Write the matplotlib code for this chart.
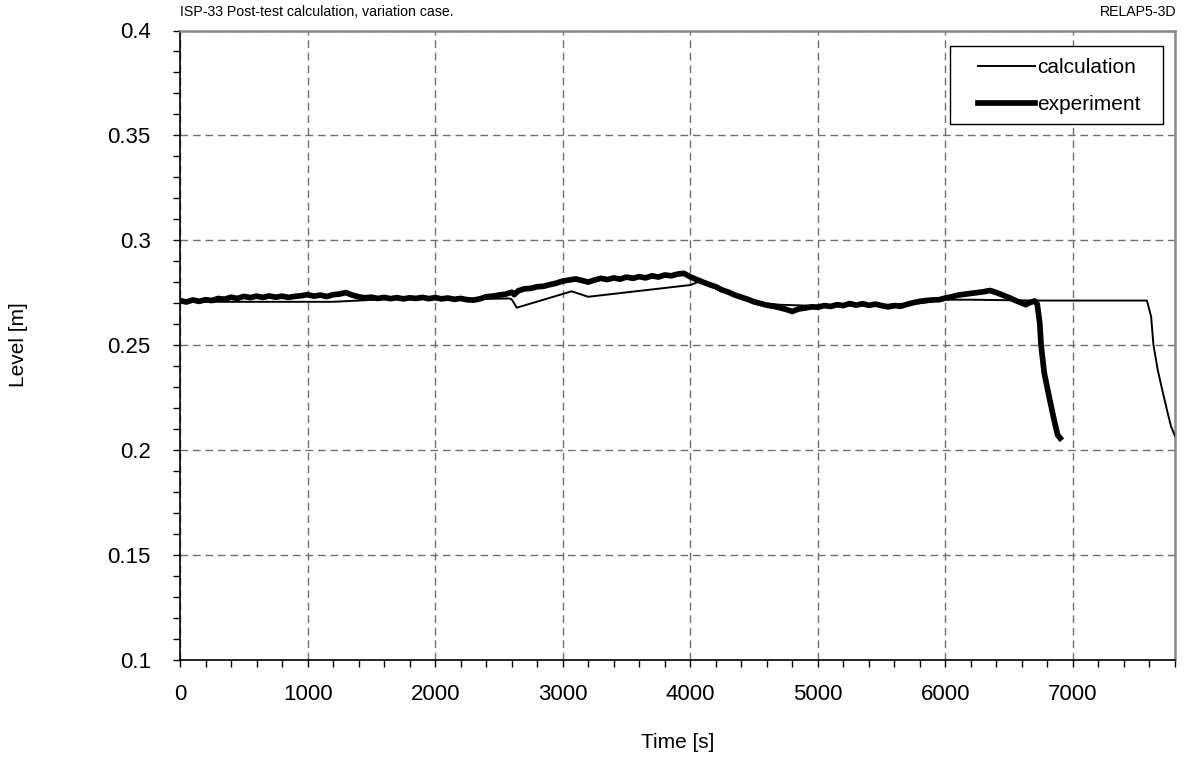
import matplotlib
matplotlib.use("Agg")
import matplotlib.pyplot as plt
from matplotlib.ticker import MultipleLocator
from matplotlib.legend_handler import HandlerLine2D
from matplotlib.patches import Rectangle

plt.rcParams['font.family'] = ['Liberation Sans', 'DejaVu Sans']

# Measured collapsed level, ISP-33 experiment
exp_time = [0, 50, 100, 150, 200, 250, 300, 350, 400, 450, 500, 550, 600, 650, 700,
            750, 800, 850, 900, 950, 1000, 1050, 1100, 1150, 1200, 1250, 1300, 1350,
            1400, 1450, 1500, 1550, 1600, 1650, 1700, 1750, 1800, 1850, 1900, 1950,
            2000, 2050, 2100, 2150, 2200, 2250, 2300, 2350, 2400, 2450, 2500, 2550,
            2600, 2620, 2650, 2700, 2750, 2800, 2850, 2900, 2950, 3000, 3050, 3100,
            3150, 3200, 3250, 3300, 3350, 3400, 3450, 3500, 3550, 3600, 3650, 3700,
            3750, 3800, 3850, 3900, 3950, 4000, 4050, 4100, 4150, 4200, 4250, 4300,
            4350, 4400, 4450, 4500, 4550, 4600, 4650, 4700, 4750, 4800, 4850, 4900,
            4950, 5000, 5050, 5100, 5150, 5200, 5250, 5300, 5350, 5400, 5450, 5500,
            5550, 5600, 5650, 5700, 5750, 5800, 5850, 5900, 5950, 6000, 6050, 6100,
            6150, 6200, 6250, 6300, 6350, 6400, 6450, 6500, 6550, 6600, 6630, 6660,
            6700, 6720, 6740, 6750, 6775, 6813, 6852, 6880, 6900]
exp_level = [0.2712, 0.2705, 0.2715, 0.2708, 0.2716, 0.2712, 0.2722, 0.2718, 0.2728,
             0.2722, 0.2732, 0.2726, 0.2733, 0.2727, 0.2734, 0.2728, 0.2733, 0.2727,
             0.2732, 0.2735, 0.2740, 0.2733, 0.2738, 0.2731, 0.2740, 0.2743, 0.2750,
             0.2738, 0.2730, 0.2725, 0.2728, 0.2722, 0.2727, 0.2721, 0.2726, 0.2720,
             0.2725, 0.2722, 0.2727, 0.2721, 0.2726, 0.2720, 0.2724, 0.2718, 0.2722,
             0.2716, 0.2714, 0.2720, 0.2730, 0.2733, 0.2738, 0.2742, 0.2752, 0.2740,
             0.2758, 0.2768, 0.2770, 0.2778, 0.2780, 0.2788, 0.2795, 0.2805, 0.2810,
             0.2815, 0.2808, 0.2800, 0.2810, 0.2818, 0.2812, 0.2820, 0.2814, 0.2824,
             0.2818, 0.2826, 0.2820, 0.2830, 0.2824, 0.2834, 0.2830, 0.2838, 0.2842,
             0.2825, 0.2812, 0.2800, 0.2788, 0.2778, 0.2762, 0.2752, 0.2738, 0.2728,
             0.2718, 0.2706, 0.2698, 0.2690, 0.2685, 0.2678, 0.2670, 0.2660, 0.2672,
             0.2676, 0.2682, 0.2680, 0.2688, 0.2684, 0.2692, 0.2688, 0.2698, 0.2690,
             0.2697, 0.2689, 0.2695, 0.2688, 0.2682, 0.2688, 0.2685, 0.2694, 0.2702,
             0.2708, 0.2712, 0.2715, 0.2716, 0.2724, 0.2730, 0.2738, 0.2742, 0.2746,
             0.2750, 0.2754, 0.2760, 0.2750, 0.2738, 0.2726, 0.2712, 0.2700, 0.2692,
             0.2702, 0.2710, 0.2695, 0.2603, 0.2500, 0.2367, 0.2254, 0.2143, 0.2071,
             0.2056]

# RELAP5-3D calculated level
calc_time = [0, 200, 1200, 1400, 1600, 2400, 2580, 2600, 2640, 3070, 3200, 4000,
             4060, 4100, 4200, 4300, 4400, 4500, 4600, 4700, 4800, 4900, 5000, 5500,
             5800, 6000, 6200, 6700, 7580, 7613, 7631, 7665, 7700, 7743, 7770, 7800]
calc_level = [0.2712, 0.2706, 0.2706, 0.2712, 0.2718, 0.2720, 0.2722, 0.2718, 0.2678,
              0.2756, 0.2730, 0.2786, 0.2800, 0.2795, 0.2775, 0.2750, 0.2728, 0.2710,
              0.2698, 0.2692, 0.2690, 0.2688, 0.2688, 0.2690, 0.2700, 0.2716, 0.2716,
              0.2712, 0.2712, 0.2635, 0.2500, 0.2380, 0.2286, 0.2175, 0.2110, 0.2066]

W, H = 1191, 758
fig = plt.figure(figsize=(W / 100, H / 100), dpi=100)
ax = fig.add_axes([180 / W, 1 - 659.5 / H, 995 / W, 629 / H])

calc_line, = ax.plot(calc_time, calc_level, color='black', lw=1.4, label='calculation',
                     zorder=3)
exp_line, = ax.plot(exp_time, exp_level, color='black', lw=4.1, label='experiment',
                    zorder=4)

ax.set_xlim(0, 7800)
ax.set_ylim(0.1, 0.4)
ax.xaxis.set_major_locator(MultipleLocator(1000))
ax.xaxis.set_minor_locator(MultipleLocator(200))
ax.yaxis.set_minor_locator(MultipleLocator(0.01))
ax.set_yticks([0.1, 0.15, 0.2, 0.25, 0.3, 0.35, 0.4])
ax.set_yticklabels(['0.1', '0.15', '0.2', '0.25', '0.3', '0.35', '0.4'])

ax.grid(True, which='major', color='#707070', lw=1.0, linestyle=(0, (5.5, 3.5)))
ax.set_axisbelow(True)

ax.tick_params(which='both', direction='out', length=5, width=1, color='black')
ax.tick_params(axis='x', which='major', pad=13, labelsize=16)
ax.tick_params(axis='y', which='major', pad=16, labelsize=16)

for side in ('left', 'bottom'):
    ax.spines[side].set_color('black')
    ax.spines[side].set_linewidth(1.2)
for side in ('top', 'right'):
    ax.spines[side].set_color('#888888')
    ax.spines[side].set_linewidth(1.8)

ax.set_xlabel('Time [s]', fontsize=15)
ax.set_ylabel('Level [m]', fontsize=15)
ax.xaxis.set_label_coords(0.5, (1 - 742 / H - (1 - 659.5 / H)) / (629 / H),
                          transform=ax.transAxes)
ax.xaxis.label.set_va('center')
ax.yaxis.set_label_coords((18 - 180) / 995, 0.5, transform=ax.transAxes)
ax.yaxis.label.set_va('center')

fig.text(180 / W, 1 - 12 / H, 'ISP-33 Post-test calculation, variation case.',
         fontsize=10.2, ha='left', va='center')
fig.text(1176 / W, 1 - 12 / H, 'RELAP5-3D', fontsize=10.2, ha='right', va='center')


class InsetLineHandler(HandlerLine2D):
    """Legend line that starts a little to the right of the handle box."""

    def __init__(self, skip, **kw):
        super().__init__(**kw)
        self.skip = skip

    def create_artists(self, legend, orig_handle, xdescent, ydescent, width, height,
                       fontsize, trans):
        s = self.skip * fontsize
        return super().create_artists(legend, orig_handle, xdescent - s, ydescent,
                                      width - s, height, fontsize, trans)


# Legend box drawn separately so its padding can be uneven
fig.patches.append(Rectangle((950 / W, 1 - 124 / H), 213 / W, 78 / H,
                             transform=fig.transFigure, facecolor='white',
                             edgecolor='black', lw=1.0, zorder=5))
fs_px = 15 * 100 / 72
leg = fig.legend(handles=[calc_line, exp_line], loc='upper left',
                 bbox_to_anchor=(950 / W, 1 - 58 / H), bbox_transform=fig.transFigure,
                 fontsize=15, frameon=False, handlelength=85 / fs_px,
                 handletextpad=0.1, borderpad=0, labelspacing=0.86, borderaxespad=0,
                 handler_map={calc_line: InsetLineHandler(28 / fs_px),
                              exp_line: InsetLineHandler(28 / fs_px)})
leg.set_zorder(6)

fig.savefig('out.png', dpi=100)
